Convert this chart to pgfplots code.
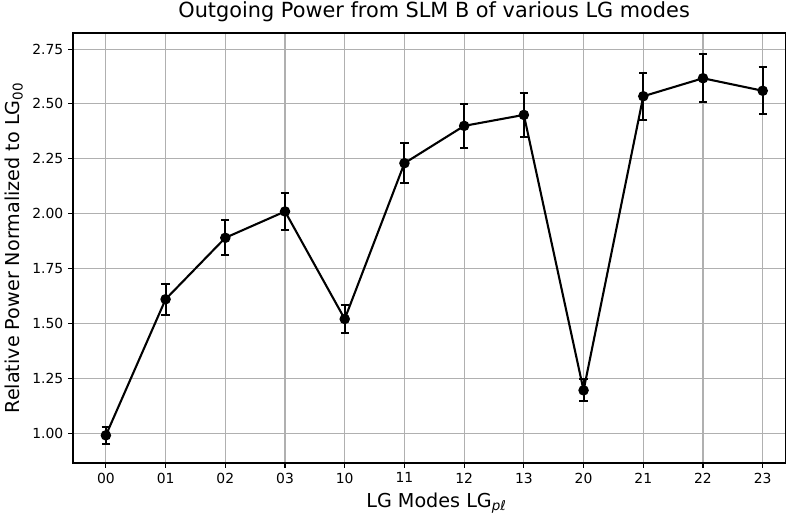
\documentclass[border=0pt]{standalone}
\usepackage{fontspec}
\setmainfont{DejaVu Sans}
\usepackage{pgfplots}
\usepackage{pgfplotstable}
\pgfplotsset{compat=1.18}
\pgfplotstableread{
x y err
0 0.99 0.04
1 1.61 0.07
2 1.89 0.08
3 2.01 0.085
4 1.52 0.065
5 2.23 0.09
6 2.40 0.10
7 2.45 0.10
8 1.195 0.05
9 2.535 0.107
10 2.617 0.11
11 2.56 0.107
}\datatable
\begin{document}
\begin{tikzpicture}
\begin{axis}[
  scale only axis, width=513.4pt, height=309.6pt,
  xmin=-0.55, xmax=11.39, ymin=0.864, ymax=2.823,
  xtick={0,...,11},
  xticklabels={00,01,02,03,10,11,12,13,20,21,22,23},
  ytick={1,1.25,1.5,1.75,2,2.25,2.5,2.75},
  yticklabel style={/pgf/number format/fixed, /pgf/number format/fixed zerofill, /pgf/number format/precision=2},
  /pgf/number format/assume math mode=true,
  ticklabel style={font=\fontsize{10}{12}\selectfont},
  tick align=outside, xtick pos=bottom, ytick pos=left,
  major tick length=3.5pt, tick style={black, line width=0.8pt},
  grid=major, grid style={color=black!31, line width=0.8pt},
  axis line style={black, line width=0.8pt},
  title={Outgoing Power from SLM B of various LG modes},
  title style={font=\fontsize{15}{18}\selectfont, at={(0.5,1)}, anchor=base, yshift=5pt, xshift=3.3pt, inner sep=0pt},
  xlabel={LG Modes LG\textsubscript{\itshape pℓ}},
  ylabel={Relative Power Normalized to LG\textsubscript{00}},
  label style={font=\fontsize{13.8}{17}\selectfont},
  xlabel style={xshift=5pt},
]
\addplot[black, line width=1.5pt, mark=*, mark size=3pt,
  error bars/.cd, y dir=both, y explicit,
  error bar style={line width=1.5pt},
  error mark options={rotate=90, mark size=3pt, line width=1.5pt}]
  table[x=x, y=y, y error=err] {\datatable};
\end{axis}
\pgfresetboundingbox
\path (current axis.south west) ++(-52.6pt,-37.4pt) coordinate (bl);
\path (current axis.north east) ++(-0.5pt,23.8pt) coordinate (tr);
\path[use as bounding box] (bl) rectangle (tr);
\end{tikzpicture}
\end{document}
